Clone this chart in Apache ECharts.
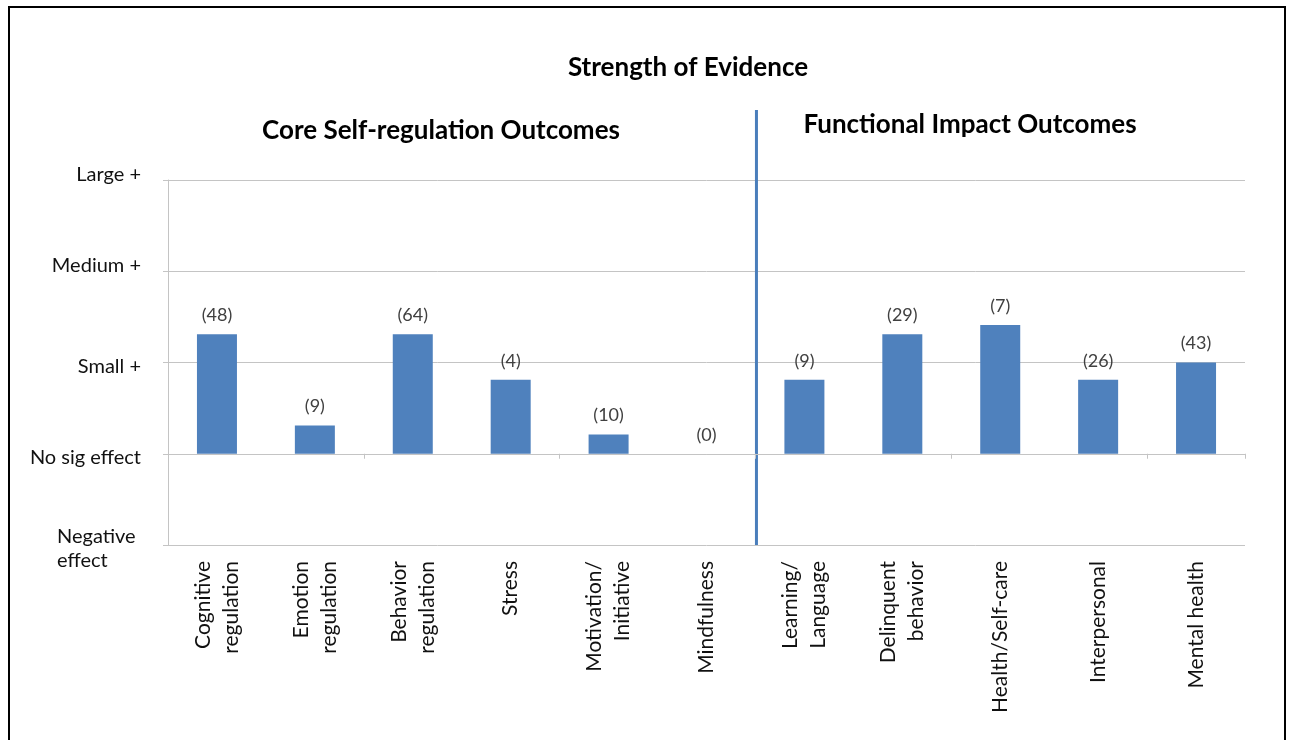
<!DOCTYPE html>
<html>
<head>
<meta charset="utf-8">
<script src="https://cdn.jsdelivr.net/npm/echarts@6/dist/echarts.min.js"></script>
<style>
  html, body { margin: 0; padding: 0; background: #fff; }
  #chart { width: 1290px; height: 740px; }
</style>
</head>
<body>
<div id="chart"></div>
<script>
// Outcome categories, left block = core self-regulation, right block = functional impact
const categories = [
  'Cognitive\nregulation', 'Emotion\nregulation', 'Behavior\nregulation', 'Stress',
  'Motivation/\nInitiative', 'Mindfulness',
  'Learning/\nLanguage', 'Delinquent\nbehavior', 'Health/Self-care', 'Interpersonal', 'Mental health'
];
// Strength of evidence on the ordinal scale (-1 = negative ... 3 = large +)
const strength = [1.31, 0.31, 1.31, 0.81, 0.21, 0, 0.81, 1.31, 1.41, 0.81, 1.0];
// Number of studies shown above each bar
const studyCounts = ['(48)', '(9)', '(64)', '(4)', '(10)', '(0)', '(9)', '(29)', '(7)', '(26)', '(43)'];
// Ordinal scale labels from value -1 upward
const scaleLabels = ['Negative effect', 'No sig effect', 'Small +', 'Medium +', 'Large +'];
const coreCount = 6; // first six categories are core self-regulation outcomes

const FONT = 'Lato, "Open Sans", sans-serif';
const GRID = '#c4c4c4';
const TXT = '#111';

const chart = echarts.init(document.getElementById('chart'));

const option = {
  animation: false,
  backgroundColor: '#ffffff',
  grid: { left: 168, right: 45, top: 180, bottom: 195, containLabel: false },
  xAxis: [
    {
      type: 'category',
      data: categories,
      boundaryGap: true,
      axisLine: { onZero: true, lineStyle: { color: GRID, width: 1 } },
      axisTick: { show: true, alignWithLabel: false, length: 5, lineStyle: { color: GRID } },
      axisLabel: { show: false },
      splitLine: { show: false }
    },
    {
      type: 'category',
      data: categories,
      position: 'bottom',
      boundaryGap: true,
      axisLine: { show: false, onZero: false },
      axisTick: { show: false },
      axisLabel: {
        rotate: 90,
        margin: 16,
        interval: 0,
        color: TXT,
        fontFamily: FONT,
        fontSize: 21,
        lineHeight: 28
      }
    }
  ],
  yAxis: {
    type: 'value',
    min: -1,
    max: 3,
    interval: 1,
    axisLine: { show: true, lineStyle: { color: GRID, width: 1 } },
    axisTick: { show: true, length: 5, lineStyle: { color: GRID } },
    splitLine: { show: true, lineStyle: { color: GRID, width: 1 } },
    axisLabel: {
      margin: 27,
      color: TXT,
      fontFamily: FONT,
      fontSize: 20,
      formatter: function (v) {
        const i = Math.round(v);
        const name = scaleLabels[i + 1];
        if (i === -1) {
          const parts = name.split(' ');
          return '{sp| }\n{neg|' + parts[0] + '}\n{neg|' + parts[1] + '}';
        }
        return (i >= 2 ? '{up|' : '{down|') + name + '}';
      },
      rich: {
        up: { fontFamily: FONT, fontSize: 20, color: TXT, padding: [0, 0, 11, 0] },
        down: { fontFamily: FONT, fontSize: 20, color: TXT, padding: [8, 0, 0, 0] },
        sp: { fontSize: 1, lineHeight: 8, height: 8 },
        neg: { width: 84, align: 'left', fontFamily: FONT, fontSize: 20, lineHeight: 24, color: TXT }
      }
    }
  },
  series: [
    {
      type: 'bar',
      xAxisIndex: 0,
      data: strength,
      barWidth: 40,
      itemStyle: { color: '#4f81bd' },
      label: {
        show: true,
        position: 'top',
        distance: 10,
        color: '#404040',
        fontFamily: FONT,
        fontSize: 18,
        formatter: function (p) { return studyCounts[p.dataIndex]; }
      }
    }
  ]
};

chart.setOption(option);

// Divider between the two outcome groups, headings and frame
const xa = chart.convertToPixel({ xAxisIndex: 0 }, categories[coreCount - 1]);
const xb = chart.convertToPixel({ xAxisIndex: 0 }, categories[coreCount]);
const divX = (xa + xb) / 2 + 1;
const yBottom = chart.convertToPixel({ yAxisIndex: 0 }, -1);

chart.setOption({
  graphic: [
    {
      type: 'rect',
      shape: { x: 9, y: 7, width: 1276, height: 760 },
      style: { fill: null, stroke: '#000', lineWidth: 2 },
      silent: true
    },
    {
      type: 'line',
      shape: { x1: divX, y1: 110, x2: divX, y2: yBottom },
      style: { stroke: '#4a7ebb', lineWidth: 3 },
      silent: true
    },
    {
      type: 'text',
      style: { text: 'Strength of Evidence', x: 688, y: 68, align: 'center', verticalAlign: 'middle',
               font: 'bold 26px ' + FONT, fill: '#000' }
    },
    {
      type: 'text',
      style: { text: 'Core Self-regulation Outcomes', x: 441, y: 131, align: 'center', verticalAlign: 'middle',
               font: 'bold 26px ' + FONT, fill: '#000' }
    },
    {
      type: 'text',
      style: { text: 'Functional Impact Outcomes', x: 970, y: 125, align: 'center', verticalAlign: 'middle',
               font: 'bold 26px ' + FONT, fill: '#000' }
    }
  ]
});
</script>
</body>
</html>
